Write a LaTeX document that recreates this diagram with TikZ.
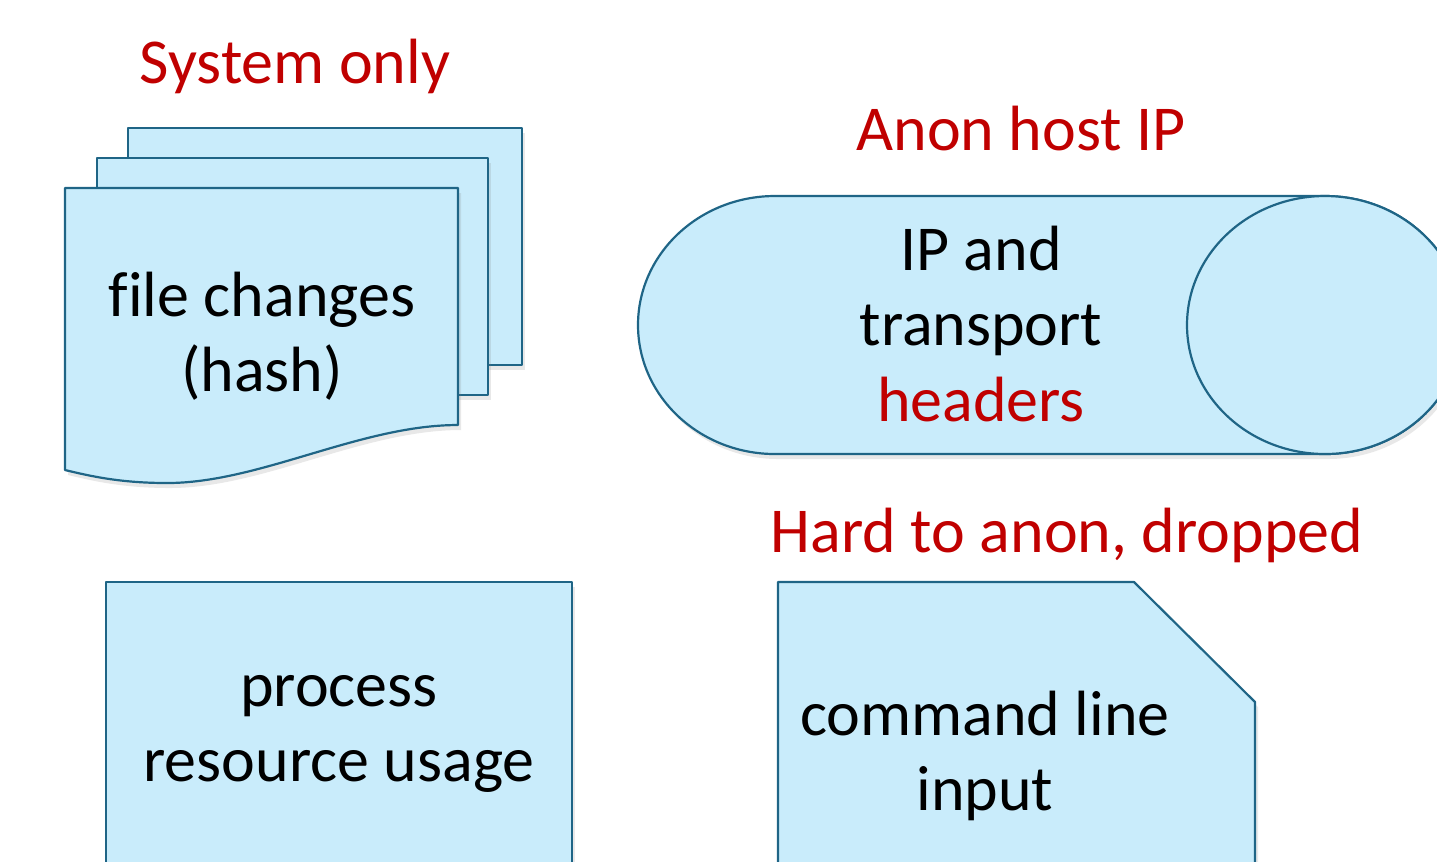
\documentclass[tikz,border=0pt]{standalone}
\usepackage{fontspec}
\setmainfont{Carlito}[Ligatures=NoCommon]
\usetikzlibrary{shadows}
\definecolor{boxfill}{HTML}{C9ECFB}
\definecolor{boxline}{HTML}{1F6586}
\definecolor{notered}{HTML}{C00000}

\begin{document}
\begin{tikzpicture}[x=0.1mm, y=-0.1mm,
  sheet/.style={fill=boxfill, draw=boxline, line width=0.22mm, line join=round},
  shadowed/.style={sheet, drop shadow={opacity=0.18, shadow xshift=0.3mm, shadow yshift=-0.5mm}},
  lbl/.style={font=\fontsize{18.2}{21.5}\selectfont, align=center, inner sep=0pt},
  note/.style={lbl, text=notered, anchor=base}]
  \useasboundingbox (0,0) rectangle (1437,861);
  \clip (0,0) rectangle (1437,861);

  % stack of documents
  \draw[shadowed] (128,128) rectangle (522,365);
  \draw[shadowed] (97,158) rectangle (488,395);
  \draw[shadowed] (65,188) -- (458,188) -- (458,425)
    .. controls (360,425) and (260,483) .. (167,483)
    .. controls (120,483) and (90,476) .. (65,470) -- cycle;

  % horizontal drum
  \draw[shadowed] (1325,196) -- (775,196)
    arc[start angle=270, end angle=90, x radius=137, y radius=129] -- (1325,454)
    arc[start angle=90, end angle=-90, x radius=138, y radius=129] -- cycle;
  \draw[sheet] (1325,325) ellipse[x radius=138, y radius=129];

  % lower boxes, cut by the page edge
  \draw[shadowed] (106,582) rectangle (572,900);
  \draw[shadowed] (778,900) -- (778,582) -- (1134,582) -- (1255,702) -- (1255,900) -- cycle;

  \node[lbl] (files) at (262,336) {file changes\\(hash)};
  \node[lbl] (headers) at (981,324) {IP and\\transport\\\textcolor{notered}{headers}};
  \node[lbl] (usage) at (339,734) {process\\resource usage};
  \node[lbl] (cmdline) at (985,756) {command line\\input};

  \node[note] (sysonly) at (295,83) {System only};
  \node[note] (anonip) at (1021,150) {Anon host IP};
  \node[note] (dropped) at (1067,552) {Hard to anon, dropped};
\end{tikzpicture}
\end{document}
